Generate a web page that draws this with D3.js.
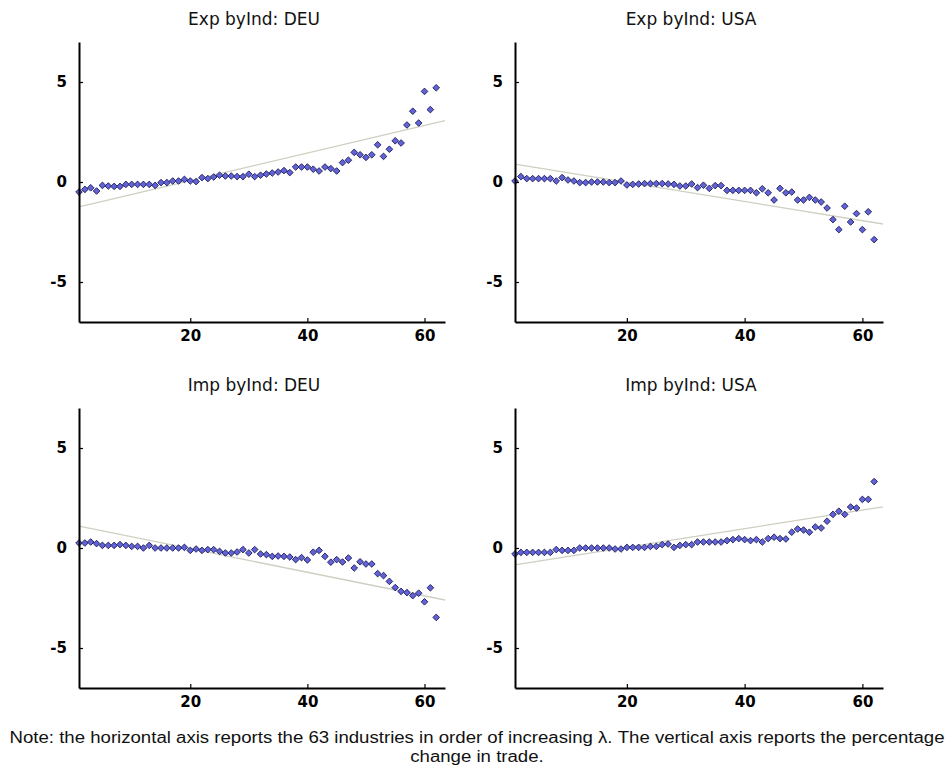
<!DOCTYPE html>
<html>
<head>
<meta charset="utf-8">
<script src="https://cdn.jsdelivr.net/npm/d3@7"></script>
<style>
  body { margin: 0; background: #fff; }
  svg { display: block; }
</style>
</head>
<body>
<div id="chart"></div>
<script>
// industries, ranked by increasing lambda
var industry = d3.range(1, 63);

// percentage change in trade
var expDEU = [-0.50, -0.37, -0.29, -0.45, -0.17, -0.20, -0.22, -0.22, -0.12, -0.12,
  -0.12, -0.12, -0.12, -0.17, -0.03, -0.03, 0.05, 0.05, 0.13, 0.05,
  0.02, 0.22, 0.17, 0.25, 0.34, 0.30, 0.30, 0.27, 0.27, 0.39,
  0.27, 0.34, 0.40, 0.45, 0.50, 0.57, 0.47, 0.75, 0.75, 0.75,
  0.64, 0.55, 0.75, 0.67, 0.55, 0.97, 1.09, 1.48, 1.36, 1.23,
  1.36, 1.86, 1.28, 1.64, 2.06, 1.95, 2.85, 3.54, 2.95, 4.53,
  3.62, 4.71];
var expUSA = [0.05, 0.27, 0.17, 0.17, 0.17, 0.17, 0.17, 0.05, 0.22, 0.10,
  0.05, -0.03, -0.03, 0.00, 0.00, 0.00, -0.03, -0.03, 0.05, -0.15,
  -0.12, -0.10, -0.08, -0.08, -0.08, -0.08, -0.10, -0.12, -0.20, -0.20,
  -0.10, -0.28, -0.16, -0.32, -0.18, -0.18, -0.42, -0.42, -0.42, -0.42,
  -0.42, -0.54, -0.34, -0.54, -0.90, -0.32, -0.54, -0.50, -0.90, -0.90,
  -0.77, -0.90, -1.00, -1.30, -1.88, -2.38, -1.21, -2.00, -1.58, -2.38,
  -1.49, -2.88];
var impDEU = [0.25, 0.25, 0.30, 0.22, 0.13, 0.13, 0.13, 0.17, 0.13, 0.08,
  0.08, 0.00, 0.13, 0.00, 0.00, 0.00, 0.00, 0.00, 0.03, -0.12,
  -0.05, -0.12, -0.08, -0.08, -0.17, -0.25, -0.25, -0.20, -0.08, -0.25,
  -0.08, -0.30, -0.33, -0.42, -0.40, -0.42, -0.45, -0.58, -0.48, -0.60,
  -0.21, -0.12, -0.42, -0.71, -0.58, -0.70, -0.50, -1.00, -0.69, -0.80,
  -0.80, -1.28, -1.38, -1.67, -1.98, -2.17, -2.23, -2.38, -2.26, -2.69,
  -1.99, -3.47];
var impUSA = [-0.30, -0.22, -0.22, -0.22, -0.22, -0.22, -0.22, -0.08, -0.12, -0.12,
  -0.12, 0.00, 0.00, 0.00, 0.00, 0.00, 0.00, -0.05, -0.05, 0.03,
  0.03, 0.03, 0.03, 0.08, 0.08, 0.17, 0.20, 0.03, 0.13, 0.17,
  0.17, 0.30, 0.30, 0.30, 0.30, 0.30, 0.37, 0.42, 0.47, 0.42,
  0.37, 0.42, 0.30, 0.47, 0.54, 0.47, 0.45, 0.79, 0.95, 0.90,
  0.79, 1.05, 1.00, 1.34, 1.68, 1.84, 1.68, 2.05, 2.00, 2.43,
  2.43, 3.32];

// fitted line: value at the left and right edge of the x range
var trendStart = [-1.24, 0.89, 1.09, -0.84];
var trendEnd = [3.07, -2.10, -2.60, 2.06];

var titles = ['Exp byInd: DEU', 'Exp byInd: USA', 'Imp byInd: DEU', 'Imp byInd: USA'];
var series = [expDEU, expUSA, impDEU, impUSA];
var xTicks = [20, 40, 60];
var yTicks = [-5, 0, 5];
var xDomain = [1, 63.5];
var yDomain = [-7, 7];

var noteLines = ['Note: the horizontal axis reports the 63 industries in order of increasing \u03bb. The vertical axis reports the percentage',
  'change in trade.'];

// setup SVG
var width = 951, height = 771;
var svg = d3.select('#chart').append('svg')
  .attr('width', width).attr('height', height);

// panel boxes (left, top, width)
var lefts = [79, 515, 79, 515];
var tops = [42, 42, 408, 408];
var widths = [366, 368, 366, 368];
var ph = 280;

series.forEach(function(vals, k) {
  var g = svg.append('g')
    .attr('transform', 'translate(' + lefts[k] + ',' + tops[k] + ')');

  var x = d3.scaleLinear().domain(xDomain).range([0, widths[k]]);
  var y = d3.scaleLinear().domain(yDomain).range([ph, 0]);

  // title
  g.append('text')
    .attr('x', widths[k] / 2 - 8).attr('y', -17)
    .attr('text-anchor', 'middle')
    .attr('font-family', 'DejaVu Sans, sans-serif')
    .attr('font-size', '17px')
    .attr('fill', '#111')
    .text(titles[k]);

  // trend line
  g.append('line')
    .attr('x1', x(xDomain[0])).attr('y1', y(trendStart[k]))
    .attr('x2', x(xDomain[1])).attr('y2', y(trendEnd[k]))
    .attr('stroke', '#cdd0c0').attr('stroke-width', 1.3);

  // points
  var sym = d3.symbol().type(d3.symbolSquare).size(22);
  g.selectAll('path.pt')
    .data(vals).enter().append('path')
    .attr('class', 'pt')
    .attr('d', sym)
    .attr('transform', function(d, i) {
      return 'translate(' + x(industry[i]) + ',' + y(d) + ') rotate(45)';
    })
    .attr('fill', '#6363d8')
    .attr('stroke', '#22225f')
    .attr('stroke-width', 0.9);

  // axes
  var xa = g.append('g')
    .attr('transform', 'translate(0,' + ph + ')')
    .call(d3.axisBottom(x).tickValues(xTicks).tickSize(-4).tickSizeOuter(0).tickPadding(8));
  var ya = g.append('g')
    .call(d3.axisLeft(y).tickValues(yTicks).tickSize(-4).tickSizeOuter(0).tickPadding(12)
      .tickFormat(d3.format('d')));

  [xa, ya].forEach(function(a) {
    a.select('.domain').attr('stroke', '#000').attr('stroke-width', 2);
    a.selectAll('.tick line').attr('stroke', '#000').attr('stroke-width', 1.2);
    a.selectAll('.tick text')
      .attr('font-family', 'DejaVu Sans, sans-serif')
      .attr('font-weight', 'bold')
      .attr('font-size', '15px')
      .attr('fill', '#000');
  });
  // minus sign like the original hyphen
  ya.selectAll('.tick text').text(function(d) { return d < 0 ? '-' + Math.abs(d) : d; });
});

// note below the panels
var notes = svg.selectAll('text.note')
  .data(noteLines).enter().append('text')
  .attr('class', 'note')
  .attr('x', 477)
  .attr('y', function(d, i) { return 743 + i * 19; })
  .attr('text-anchor', 'middle')
  .attr('font-family', 'Liberation Sans, Arial, sans-serif')
  .attr('font-size', '16px')
  .attr('fill', '#111')
  .text(function(d) { return d; });

// stretch the note to the reference width, same ratio for both lines
var ratio = 935 / notes.nodes()[0].getComputedTextLength();
notes.each(function() {
  d3.select(this)
    .attr('textLength', this.getComputedTextLength() * ratio)
    .attr('lengthAdjust', 'spacingAndGlyphs');
});
</script>
</body>
</html>
